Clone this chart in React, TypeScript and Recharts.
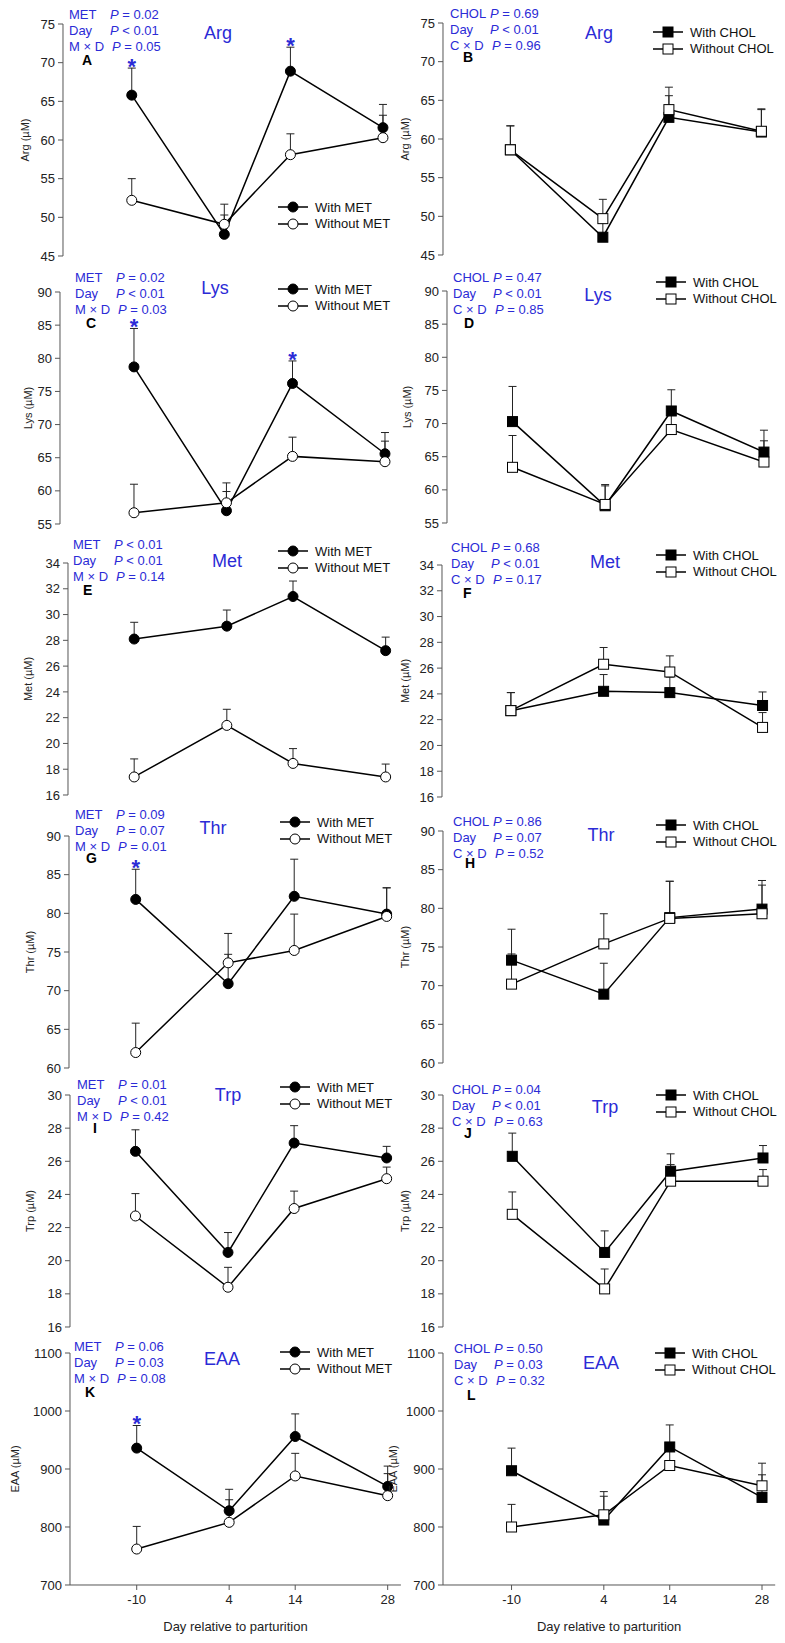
import React from "react";
import { LineChart, Line, XAxis, YAxis, ErrorBar, Label } from "recharts";

const FONT = '"Liberation Sans", Arial, sans-serif';
const BLUE = "#2b2bd6";
const PLOT_H = 232;

const days = [-10, 4, 14, 28];

const argTicks = [45, 50, 55, 60, 65, 70, 75];
const lysTicks = [55, 60, 65, 70, 75, 80, 85, 90];
const metTicks = [16, 18, 20, 22, 24, 26, 28, 30, 32, 34];
const thrTicks = [60, 65, 70, 75, 80, 85, 90];
const trpTicks = [16, 18, 20, 22, 24, 26, 28, 30];
const eaaTicks = [700, 800, 900, 1000, 1100];

// MET groups (circles): mean and SE per day
const argWithMet = [65.8, 47.8, 68.9, 61.6];
const argWithMetSe = [3.5, 2.5, 3.1, 3.0];
const argNoMet = [52.2, 49.1, 58.1, 60.3];
const argNoMetSe = [2.8, 2.6, 2.7, 2.9];
const argMetSig = [1, 0, 1, 0];

const lysWithMet = [78.7, 57.0, 76.2, 65.6];
const lysWithMetSe = [5.8, 2.9, 3.4, 3.2];
const lysNoMet = [56.7, 58.2, 65.2, 64.4];
const lysNoMetSe = [4.3, 3.0, 2.9, 3.1];
const lysMetSig = [1, 0, 1, 0];

const metWithMet = [28.1, 29.1, 31.4, 27.2];
const metWithMetSe = [1.3, 1.25, 1.2, 1.05];
const metNoMet = [17.4, 21.4, 18.45, 17.4];
const metNoMetSe = [1.4, 1.25, 1.15, 1.0];
const metMetSig = [0, 0, 0, 0];

const thrWithMet = [81.8, 70.9, 82.2, 79.9];
const thrWithMetSe = [3.9, 3.8, 4.8, 3.4];
const thrNoMet = [62.0, 73.6, 75.2, 79.6];
const thrNoMetSe = [3.8, 3.8, 4.7, 3.7];
const thrMetSig = [1, 0, 0, 0];

const trpWithMet = [26.6, 20.5, 27.1, 26.2];
const trpWithMetSe = [1.3, 1.2, 1.05, 0.7];
const trpNoMet = [22.7, 18.4, 23.15, 24.95];
const trpNoMetSe = [1.35, 1.2, 1.05, 0.7];
const trpMetSig = [0, 0, 0, 0];

const eaaWithMet = [936, 828, 956, 870];
const eaaWithMetSe = [39, 37, 39, 35];
const eaaNoMet = [762, 808, 888, 854];
const eaaNoMetSe = [39, 39, 39, 38];
const eaaMetSig = [1, 0, 0, 0];

// CHOL groups (squares)
const argWithChol = [58.6, 47.3, 62.8, 60.9];
const argWithCholSe = [3.1, 2.7, 2.8, 2.9];
const argNoChol = [58.6, 49.7, 63.8, 61.0];
const argNoCholSe = [3.1, 2.5, 2.9, 2.9];

const lysWithChol = [70.3, 57.6, 71.9, 65.7];
const lysWithCholSe = [5.3, 3.2, 3.2, 3.3];
const lysNoChol = [63.4, 57.8, 69.1, 64.2];
const lysNoCholSe = [4.8, 2.8, 3.2, 3.2];

const metWithChol = [22.7, 24.2, 24.1, 23.1];
const metWithCholSe = [1.4, 1.3, 1.2, 1.05];
const metNoChol = [22.7, 26.3, 25.7, 21.4];
const metNoCholSe = [1.4, 1.3, 1.25, 1.15];

const thrWithChol = [73.3, 68.9, 78.8, 79.9];
const thrWithCholSe = [0.8, 4.0, 4.7, 3.7];
const thrNoChol = [70.2, 75.4, 78.7, 79.3];
const thrNoCholSe = [7.1, 3.9, 4.8, 3.7];

const trpWithChol = [26.3, 20.5, 25.4, 26.2];
const trpWithCholSe = [1.4, 1.3, 1.05, 0.75];
const trpNoChol = [22.8, 18.3, 24.8, 24.8];
const trpNoCholSe = [1.35, 1.2, 1.0, 0.7];

const eaaWithChol = [897, 812, 938, 851];
const eaaWithCholSe = [39, 41, 38, 39];
const eaaNoChol = [800, 821, 906, 871];
const eaaNoCholSe = [39, 40, 34, 39];

// P values: treatment, day, interaction
const argMetP = ["= 0.02", "< 0.01", "= 0.05"];
const lysMetP = ["= 0.02", "< 0.01", "= 0.03"];
const metMetP = ["< 0.01", "< 0.01", "= 0.14"];
const thrMetP = ["= 0.09", "= 0.07", "= 0.01"];
const trpMetP = ["= 0.01", "< 0.01", "= 0.42"];
const eaaMetP = ["= 0.06", "= 0.03", "= 0.08"];
const argCholP = ["= 0.69", "< 0.01", "= 0.96"];
const lysCholP = ["= 0.47", "< 0.01", "= 0.85"];
const metCholP = ["= 0.68", "< 0.01", "= 0.17"];
const thrCholP = ["= 0.86", "= 0.07", "= 0.52"];
const trpCholP = ["= 0.04", "< 0.01", "= 0.63"];
const eaaCholP = ["= 0.50", "= 0.03", "= 0.32"];

const panels = [
  { id: "A", name: "Arg", group: "MET", ticks: argTicks, w: argWithMet, ws: argWithMetSe, n: argNoMet, ns: argNoMetSe, sig: argMetSig, p: argMetP,
    top: 24, axisX: 63, xMin: -20.4, xRight: 396.2, labX: 25, title: [218, 33], stats: [69, 14], letter: [82, 60], legend: [278, 207] },
  { id: "B", name: "Arg", group: "CHOL", ticks: argTicks, w: argWithChol, ws: argWithCholSe, n: argNoChol, ns: argNoCholSe, sig: null, p: argCholP,
    top: 23.3, axisX: 443.3, xMin: -20.2, xRight: 774.9, labX: 405, title: [599, 33], stats: [450, 13], letter: [463, 57], legend: [653, 32] },
  { id: "C", name: "Lys", group: "MET", ticks: lysTicks, w: lysWithMet, ws: lysWithMetSe, n: lysNoMet, ns: lysNoMetSe, sig: lysMetSig, p: lysMetP,
    top: 291.7, axisX: 60, xMin: -21.2, xRight: 398.2, labX: 28, title: [215, 288], stats: [75, 277], letter: [86, 323], legend: [278, 289] },
  { id: "D", name: "Lys", group: "CHOL", ticks: lysTicks, w: lysWithChol, ws: lysWithCholSe, n: lysNoChol, ns: lysNoCholSe, sig: null, p: lysCholP,
    top: 290.7, axisX: 447.3, xMin: -19.9, xRight: 777.5, labX: 407, title: [598, 295], stats: [453, 277], letter: [464, 323], legend: [656, 282] },
  { id: "E", name: "Met", group: "MET", ticks: metTicks, w: metWithMet, ws: metWithMetSe, n: metNoMet, ns: metNoMetSe, sig: metMetSig, p: metMetP,
    top: 563.3, axisX: 68, xMin: -20.0, xRight: 398.9, labX: 28, title: [227, 561], stats: [73, 544], letter: [83, 590], legend: [278, 551] },
  { id: "F", name: "Met", group: "CHOL", ticks: metTicks, w: metWithChol, ws: metWithCholSe, n: metNoChol, ns: metNoCholSe, sig: null, p: metCholP,
    top: 565, axisX: 441.7, xMin: -20.4, xRight: 775.5, labX: 405, title: [605, 562], stats: [451, 547], letter: [463, 593], legend: [656, 555] },
  { id: "G", name: "Thr", group: "MET", ticks: thrTicks, w: thrWithMet, ws: thrWithMetSe, n: thrNoMet, ns: thrNoMetSe, sig: thrMetSig, p: thrMetP,
    top: 836, axisX: 69, xMin: -20.1, xRight: 399.9, labX: 30, title: [213, 828], stats: [75, 814], letter: [86, 858], legend: [280, 822] },
  { id: "H", name: "Thr", group: "CHOL", ticks: thrTicks, w: thrWithChol, ws: thrWithCholSe, n: thrNoChol, ns: thrNoCholSe, sig: null, p: thrCholP,
    top: 830.7, axisX: 443.3, xMin: -20.4, xRight: 775.5, labX: 405, title: [601, 835], stats: [453, 821], letter: [465, 863], legend: [656, 825] },
  { id: "I", name: "Trp", group: "MET", ticks: trpTicks, w: trpWithMet, ws: trpWithMetSe, n: trpNoMet, ns: trpNoMetSe, sig: trpMetSig, p: trpMetP,
    top: 1095, axisX: 70, xMin: -19.9, xRight: 399.9, labX: 30, title: [228, 1095], stats: [77, 1084], letter: [93, 1128], legend: [280, 1087] },
  { id: "J", name: "Trp", group: "CHOL", ticks: trpTicks, w: trpWithChol, ws: trpWithCholSe, n: trpNoChol, ns: trpNoCholSe, sig: null, p: trpCholP,
    top: 1095, axisX: 443.3, xMin: -20.5, xRight: 776.5, labX: 405, title: [605, 1107], stats: [452, 1089], letter: [464, 1133], legend: [656, 1095] },
  { id: "K", name: "EAA", group: "MET", ticks: eaaTicks, w: eaaWithMet, ws: eaaWithMetSe, n: eaaNoMet, ns: eaaNoMetSe, sig: eaaMetSig, p: eaaMetP,
    top: 1353.3, axisX: 70, xMin: -20.1, xRight: 400.9, labX: 15, title: [222, 1359], stats: [74, 1346], letter: [85, 1392], legend: [280, 1352], bottom: true },
  { id: "L", name: "EAA", group: "CHOL", ticks: eaaTicks, w: eaaWithChol, ws: eaaWithCholSe, n: eaaNoChol, ns: eaaNoCholSe, sig: null, p: eaaCholP,
    top: 1353.3, axisX: 443.3, xMin: -20.4, xRight: 775.5, labX: 393, title: [601, 1363], stats: [454, 1348], letter: [467, 1395], legend: [655, 1353], bottom: true },
];

const circleDot = (fill: string) => (props: any) => {
  const { cx, cy, index } = props;
  if (cx == null || cy == null) return <g key={`c-${index}`} />;
  return <circle key={`c-${index}`} cx={cx} cy={cy} r={5} fill={fill} stroke="#000" strokeWidth={1} />;
};

const squareDot = (fill: string) => (props: any) => {
  const { cx, cy, index } = props;
  if (cx == null || cy == null) return <g key={`s-${index}`} />;
  return <rect key={`s-${index}`} x={cx - 5} y={cy - 5} width={10} height={10} fill={fill} stroke="#000" strokeWidth={1} />;
};

const starDot = (props: any) => {
  const { cx, cy, index } = props;
  if (cx == null || cy == null) return <g key={`st-${index}`} />;
  return (
    <text key={`st-${index}`} x={cx} y={cy + 6} textAnchor="middle" fontSize={22} fontWeight="bold" fill={BLUE}>
      *
    </text>
  );
};

const Txt = ({ x, y, size, color = "#111", bold = false, center = false, children }: any) => (
  <div
    style={{
      position: "absolute",
      left: x,
      top: y - size / 2,
      fontSize: size,
      lineHeight: `${size}px`,
      color,
      fontWeight: bold ? "bold" : "normal",
      whiteSpace: "nowrap",
      transform: center ? "translateX(-50%)" : undefined,
    }}
  >
    {children}
  </div>
);

const LegendRow = ({ x, y, square, filled, text }: any) => (
  <div style={{ position: "absolute", left: x, top: y - 7, height: 14, display: "flex", alignItems: "center" }}>
    <svg width={30} height={14}>
      <line x1={0} y1={7} x2={30} y2={7} stroke="#000" strokeWidth={1.5} />
      {square ? (
        <rect x={10} y={2} width={10} height={10} fill={filled ? "#000" : "#fff"} stroke="#000" strokeWidth={1} />
      ) : (
        <circle cx={15} cy={7} r={5} fill={filled ? "#000" : "#fff"} stroke="#000" strokeWidth={1} />
      )}
    </svg>
    <span style={{ marginLeft: 7, fontSize: 13, color: "#111" }}>{text}</span>
  </div>
);

const Panel = ({ p }: any) => {
  const chartLeft = p.axisX - 60;
  const width = p.xRight - chartLeft + 4;
  const height = 10 + PLOT_H + (p.bottom ? 52 : 10);
  const isMet = p.group === "MET";
  const data = days.map((d, i) => ({
    day: d,
    a: p.w[i],
    aErr: [0, p.ws[i]],
    b: p.n[i],
    bErr: [0, p.ns[i]],
    star: p.sig && p.sig[i] ? p.w[i] + p.ws[i] : null,
  }));
  const labY = 10 + PLOT_H / 2;
  const labX = p.labX - chartLeft;
  const plotMid = (60 + width - 4) / 2;
  const statLabels = isMet ? ["MET", "Day", "M × D"] : ["CHOL", "Day", "C × D"];
  const pOffset = isMet ? 41 : 40;
  const dot = isMet ? circleDot : squareDot;

  return (
    <>
      <div style={{ position: "absolute", left: chartLeft, top: p.top - 10 }}>
        <LineChart
          width={width}
          height={height}
          data={data}
          margin={{ top: 10, right: 4, bottom: p.bottom ? 0 : 10, left: 0 }}
        >
          <XAxis
            type="number"
            dataKey="day"
            domain={[p.xMin, 30]}
            ticks={days}
            interval={0}
            hide={!p.bottom}
            height={52}
            tickSize={5}
            tickMargin={5}
            tick={{ fontSize: 13, fill: "#222" }}
            axisLine={{ stroke: "#555" }}
            tickLine={{ stroke: "#555" }}
          >
            <Label
              content={() => (
                <text x={plotMid} y={10 + PLOT_H + 46.5} textAnchor="middle" fontSize={13} fill="#222">
                  Day relative to parturition
                </text>
              )}
            />
          </XAxis>
          <YAxis
            type="number"
            domain={[p.ticks[0], p.ticks[p.ticks.length - 1]]}
            ticks={p.ticks}
            interval={0}
            width={60}
            tickSize={5}
            tickMargin={3}
            tick={{ fontSize: 13, fill: "#222" }}
            axisLine={{ stroke: "#555" }}
            tickLine={{ stroke: "#555" }}
          >
            <Label
              content={() => (
                <text
                  x={labX}
                  y={labY}
                  transform={`rotate(-90 ${labX} ${labY})`}
                  textAnchor="middle"
                  dominantBaseline="central"
                  fontSize={11}
                  fill="#222"
                >
                  {p.name} (µM)
                </text>
              )}
            />
          </YAxis>
          <Line
            dataKey="a"
            stroke="#000"
            strokeWidth={1.5}
            dot={dot("#000")}
            activeDot={false}
            isAnimationActive={false}
          >
            <ErrorBar dataKey="aErr" direction="y" width={4} strokeWidth={1} stroke="#222" isAnimationActive={false} />
          </Line>
          <Line
            dataKey="b"
            stroke="#000"
            strokeWidth={1.5}
            dot={dot("#fff")}
            activeDot={false}
            isAnimationActive={false}
          >
            <ErrorBar dataKey="bErr" direction="y" width={4} strokeWidth={1} stroke="#222" isAnimationActive={false} />
          </Line>
          {p.sig && (
            <Line dataKey="star" stroke="none" dot={starDot} activeDot={false} isAnimationActive={false} />
          )}
        </LineChart>
      </div>

      {statLabels.map((lab, i) => (
        <React.Fragment key={lab}>
          <Txt x={p.stats[0]} y={p.stats[1] + i * 16} size={13} color={BLUE}>
            {lab}
          </Txt>
          <Txt x={p.stats[0] + pOffset + (i === 2 ? 2 : 0)} y={p.stats[1] + i * 16} size={13} color={BLUE}>
            <i>P</i> {p.p[i]}
          </Txt>
        </React.Fragment>
      ))}
      <Txt x={p.letter[0]} y={p.letter[1]} size={14} bold color="#000">
        {p.id}
      </Txt>
      <Txt x={p.title[0]} y={p.title[1]} size={18} color={BLUE} center>
        {p.name}
      </Txt>
      <LegendRow x={p.legend[0]} y={p.legend[1]} square={!isMet} filled text={`With ${p.group}`} />
      <LegendRow x={p.legend[0]} y={p.legend[1] + 16.5} square={!isMet} filled={false} text={`Without ${p.group}`} />
    </>
  );
};

export default function App() {
  return (
    <div
      style={{
        position: "absolute",
        left: 0,
        top: 0,
        width: 785,
        height: 1643,
        background: "#fff",
        fontFamily: FONT,
        overflow: "hidden",
      }}
    >
      {panels.map((p) => (
        <Panel key={p.id} p={p} />
      ))}
    </div>
  );
}
